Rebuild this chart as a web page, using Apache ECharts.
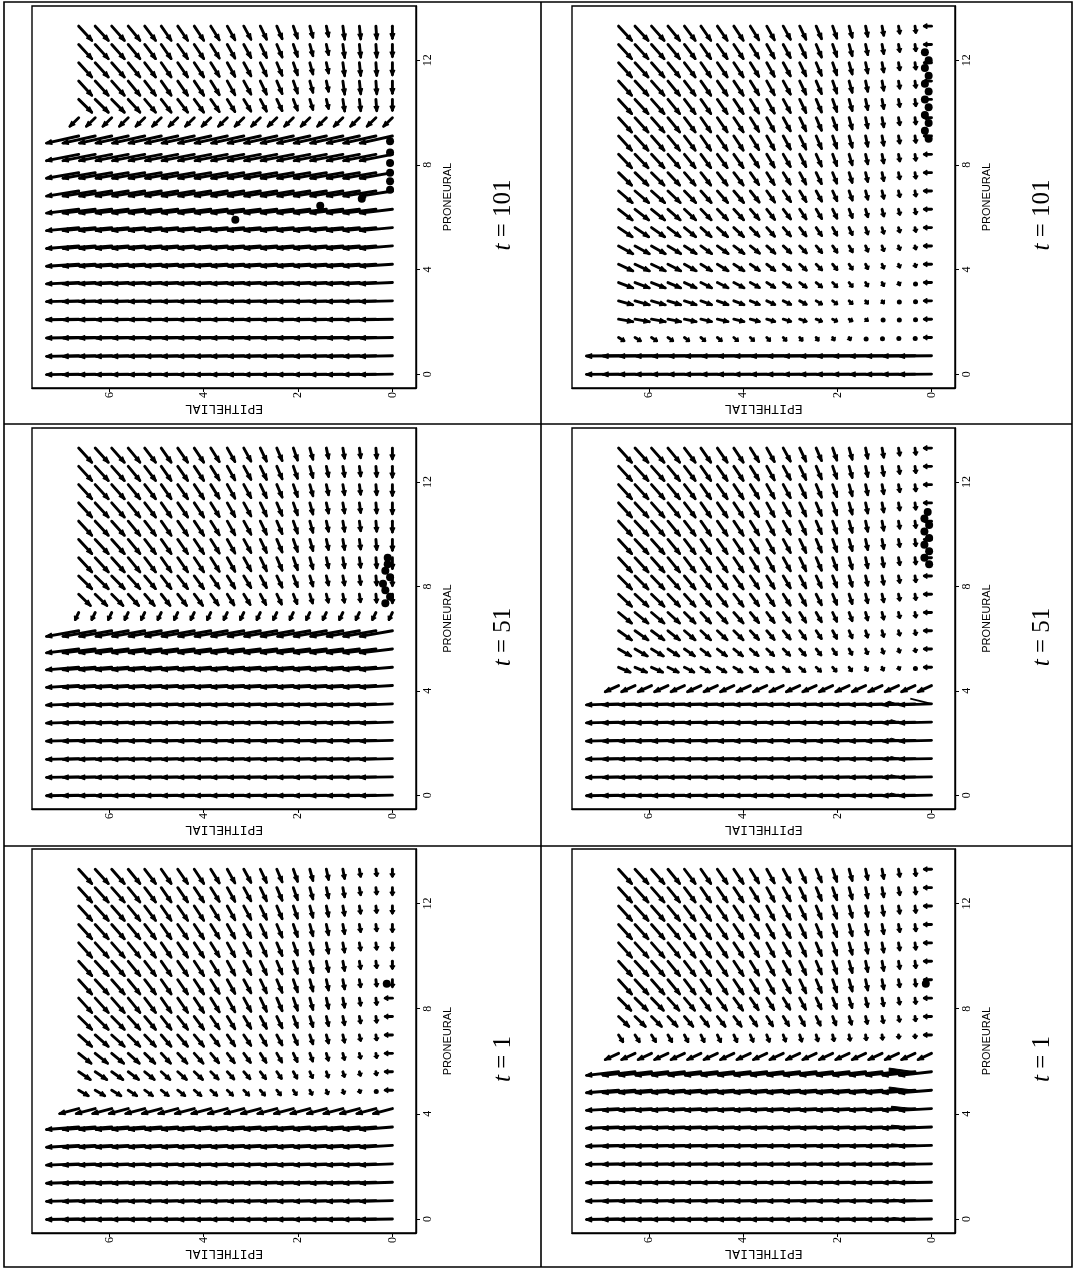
<!DOCTYPE html>
<html><head><meta charset="utf-8">
<script src="https://cdn.jsdelivr.net/npm/echarts@6/dist/echarts.min.js"></script>
<style>html,body{margin:0;padding:0;background:#fff}#c{width:1075px;height:1271px}</style>
</head><body><div id="c"></div>
<script>
// ---------------- DATA ----------------
const E_GRID = [0,0.35,0.7,1.05,1.4,1.75,2.1,2.45,2.8,3.15,3.5,3.85,4.2,4.55,4.9,5.25,5.6,5.95,6.3,6.65];
const P_GRID = [0,0.7,1.4,2.1,2.8,3.5,4.2,4.9,5.6,6.3,7.0,7.7,8.4,9.1,9.8,10.5,11.2,11.9,12.6,13.3];
const E_TICKS = [0,2,4,6];
const P_TICKS = [0,4,8,12];
const T_LABELS = ['1','51','101'];
// steady downhill arrow components (epithelial, proneural) per epithelial column
const DIAG_DE = [0,0.02,0.03,0.04,0.05,0.07,0.095,0.12,0.14,0.16,0.17,0.19,0.21,0.22,0.22,0.24,0.26,0.28,0.29,0.29];
const DIAG_DP = [0.3,0.27,0.3,0.38,0.42,0.46,0.49,0.51,0.53,0.53,0.55,0.55,0.57,0.57,0.57,0.57,0.57,0.57,0.57,0.57];
const COL0_DASH = 0.17;
// per proneural row: ['L', epithelial rise, proneural drop] or ['D', scale of DIAG_DE, scale of DIAG_DP]
const ROWS_LEFT_T1 = [['L',.7,.02],['L',.7,.03],['L',.7,.04],['L',.7,.05],['L',.7,.07],['L',.7,.1],['L',.42,.2],['D',.75,.4],['D',.9,.55],['D',.95,.7],['D',1,.8],['D',1,.9],['D',1,1],['D',1,1],['D',1,1],['D',1,1],['D',1,1],['D',1,1],['D',1,1],['D',1,1]];
const ROWS_LEFT_T51 = [['L',.7,.02],['L',.7,.02],['L',.7,.03],['L',.7,.03],['L',.7,.04],['L',.7,.05],['L',.7,.07],['L',.7,.1],['L',.7,.15],['L',.7,.22],['L',.08,.3],['D',.9,.8],['D',1,.9],['D',1,1],['D',1,1],['D',1,1],['D',1,1],['D',1,1],['D',1,1],['D',1,1]];
const ROWS_LEFT_T101 = [['L',.7,.02],['L',.7,.02],['L',.7,.02],['L',.7,.02],['L',.7,.03],['L',.7,.05],['L',.7,.08],['L',.7,.1],['L',.7,.12],['L',.7,.15],['L',.7,.2],['L',.7,.22],['L',.7,.25],['L',.7,.28],['L',.2,.35],['D',1,.9],['D',1,1],['D',1,1],['D',1,1],['D',1,1]];
const ROWS_RIGHT_T1 = [['L',.7,.02],['L',.7,.02],['L',.7,.02],['L',.7,.02],['L',.7,.03],['L',.7,.05],['L',.7,.07],['L',.7,.1],['L',.7,.14],['L',.3,.25],['D',.35,.5],['D',.8,.7],['D',.95,.85],['D',1,1],['D',1,1],['D',1,1],['D',1,1],['D',1,1],['D',1,1],['D',1,1]];
const ROWS_RIGHT_T51 = [['L',.7,.02],['L',.7,.02],['L',.7,.02],['L',.7,.03],['L',.7,.03],['L',.7,.04],['L',.3,.25],['D',.9,.35],['D',.95,.5],['D',1,.65],['D',1,.75],['D',1,.85],['D',1,.92],['D',1,1],['D',1,1],['D',1,1],['D',1,1],['D',1,1],['D',1,1],['D',1,1]];
const ROWS_RIGHT_T101 = [['L',.7,.01],['L',.7,.01],['D',.45,.25],['D',1.1,.18],['D',1.1,.28],['D',1.1,.38],['D',1.1,.47],['D',1.1,.55],['D',1.05,.65],['D',1.05,.75],['D',1.05,.82],['D',1,.88],['D',1,.94],['D',1,1],['D',1,1],['D',1,1],['D',1,1],['D',1,1],['D',1,1],['D',1,1]];
// column e=0 in 'D' rows: h = short epithelial dash, v = proneural arrow
const COL0_LEFT_T1 = '-------hhhhhhvvvvvvv';
const COL0_LEFT_T51 = '-----------vvvvvvvvv';
const COL0_LEFT_T101 = '---------------vvvvv';
const COL0_RIGHT_T1 = '----------hhhhhhhhhh';
const COL0_RIGHT_T51 = '-------hhhhhhhhhhhhh';
const COL0_RIGHT_T101 = '--hhhhhhhhhhhhhhhhhh';
const LOWDP_LEFT_T51 = [0.45,0.42,0.4,0.42];
const LOWDP_LEFT_T101 = [0.5,0.52,0.52,0.53];
// cells (epithelial, proneural)
const CELLS_LEFT_T1 = [[0.12,8.95]];
const CELLS_LEFT_T51 = [[0.15,7.35],[0.05,7.6],[0.15,7.85],[0.2,8.1],[0.05,8.35],[0.15,8.6],[0.1,8.85],[0.1,9.1]];
const CELLS_LEFT_T101 = [[0.05,7.05],[0.05,7.37],[0.05,7.7],[0.05,8.07],[0.05,8.47],[0.05,8.9],[0.65,6.7],[1.53,6.44],[3.33,5.9]];
const CELLS_RIGHT_T1 = [[0.12,8.95]];
const CELLS_RIGHT_T51 = [[0.05,8.85],[0.15,9.1],[0.05,9.35],[0.15,9.6],[0.05,9.85],[0.15,10.1],[0.05,10.35],[0.15,10.6],[0.08,10.85]];
const CELLS_RIGHT_T101 = [[0.06,9.0],[0.14,9.3],[0.06,9.6],[0.14,9.9],[0.06,10.2],[0.14,10.5],[0.06,10.8],[0.14,11.1],[0.06,11.4],[0.14,11.7],[0.06,12.0],[0.14,12.3]];
// extra heads near the e=0 end of the long rows (triangles: e,p ×3)
const WEDGES_RIGHT_T1 = [[0.9,0,0.8,0.06,0.65,0],[0.9,0.7,0.8,0.76,0.65,0.7],[0.9,1.4,0.8,1.46,0.65,1.4],[0.9,2.1,0.8,2.16,0.65,2.1],[0.85,2.8,0.85,2.86,0.5,2.8],[0.85,3.5,0.85,3.57,0.45,3.5],[0.85,4.2,0.85,4.29,0.4,4.2],[0.9,4.9,0.9,5.02,0.38,4.9],[0.9,5.6,0.9,5.74,0.35,5.6]];
const WEDGES_RIGHT_T51 = [[0.95,0,0.85,0.08,0.7,0],[0.95,0.7,0.85,0.78,0.7,0.7],[0.95,1.4,0.85,1.48,0.7,1.4],[0.95,2.1,0.85,2.18,0.7,2.1],[0.95,2.8,0.85,2.89,0.7,2.8],[1.0,3.5,0.9,3.6,0.75,3.5]];
const BARBS_RIGHT_T51 = [[0,3.5,0.45,3.7]];

// ---------------- LAYOUT ----------------
const COL_LEFT = [32, 572], COL_W = [384, 383];
const ROW_TOP = [6, 428, 849], ROW_H = [382, 381, 384];
const CELL_MID = [215, 637, 1059];
const T_X = [503, 1042];
const E_MIN = -0.5, E_MAX = 7.64, P_MIN = -0.53, P_MAX = 14.07;

const PANELS = [
  {rows: ROWS_LEFT_T101, col0: COL0_LEFT_T101, low: LOWDP_LEFT_T101, cells: CELLS_LEFT_T101, wedges: [], barbs: [], t: T_LABELS[2], c: 0, r: 0},
  {rows: ROWS_LEFT_T51, col0: COL0_LEFT_T51, low: LOWDP_LEFT_T51, cells: CELLS_LEFT_T51, wedges: [], barbs: [], t: T_LABELS[1], c: 0, r: 1},
  {rows: ROWS_LEFT_T1, col0: COL0_LEFT_T1, low: null, cells: CELLS_LEFT_T1, wedges: [], barbs: [], t: T_LABELS[0], c: 0, r: 2},
  {rows: ROWS_RIGHT_T101, col0: COL0_RIGHT_T101, low: null, cells: CELLS_RIGHT_T101, wedges: [], barbs: [], t: T_LABELS[2], c: 1, r: 0},
  {rows: ROWS_RIGHT_T51, col0: COL0_RIGHT_T51, low: null, cells: CELLS_RIGHT_T51, wedges: WEDGES_RIGHT_T51, barbs: BARBS_RIGHT_T51, t: T_LABELS[1], c: 1, r: 1},
  {rows: ROWS_RIGHT_T1, col0: COL0_RIGHT_T1, low: null, cells: CELLS_RIGHT_T1, wedges: WEDGES_RIGHT_T1, barbs: [], t: T_LABELS[0], c: 1, r: 2}
];

function buildArrows(pn) {
  const out = [];
  P_GRID.forEach((p, i) => {
    const row = pn.rows[i];
    E_GRID.forEach((e, j) => {
      let he, hp;
      if (row[0] === 'L') { he = e + row[1]; hp = p - row[2]; }
      else if (j === 0 && pn.col0[i] === 'h') { he = e + COL0_DASH; hp = p; }
      else {
        const dp = (pn.low && j < pn.low.length) ? pn.low[j] : DIAG_DP[j];
        he = e - DIAG_DE[j] * row[1]; hp = p - dp * row[2];
      }
      out.push([e, p, he, hp]);
    });
  });
  return out;
}

function arrowItem(params, api) {
  const a = api.coord([api.value(0), api.value(1)]);
  const b = api.coord([api.value(2), api.value(3)]);
  const dx = b[0] - a[0], dy = b[1] - a[1];
  const L = Math.hypot(dx, dy);
  if (L < 3) {
    return {type: 'circle', shape: {cx: (a[0]+b[0])/2, cy: (a[1]+b[1])/2, r: 2.5}, style: {fill: '#000'}};
  }
  const ux = dx / L, uy = dy / L;
  const hl = Math.min(6, Math.max(2.5, L * 0.42));
  const hw = 2.3;
  const bx = b[0] - ux * hl, by = b[1] - uy * hl;
  return {type: 'group', children: [
    {type: 'line', shape: {x1: a[0], y1: a[1], x2: b[0] - ux, y2: b[1] - uy}, style: {stroke: '#000', lineWidth: 2.9, lineCap: 'round'}},
    {type: 'polygon', shape: {points: [[b[0], b[1]], [bx - uy*hw, by + ux*hw], [bx + uy*hw, by - ux*hw]]}, style: {fill: '#000', stroke: '#000', lineWidth: 1.3, lineJoin: 'round'}}
  ]};
}
function wedgeItem(params, api) {
  const pts = [0,1,2].map(k => api.coord([api.value(2*k), api.value(2*k+1)]));
  return {type: 'polygon', shape: {points: pts}, style: {fill: '#000', stroke: '#000', lineWidth: 1}};
}
function barbItem(params, api) {
  const a = api.coord([api.value(0), api.value(1)]);
  const b = api.coord([api.value(2), api.value(3)]);
  return {type: 'line', shape: {x1: a[0], y1: a[1], x2: b[0], y2: b[1]}, style: {stroke: '#000', lineWidth: 1.8}};
}

const grid = [], xAxis = [], yAxis = [], series = [], graphic = [];
PANELS.forEach((pn, k) => {
  grid.push({left: COL_LEFT[pn.c], top: ROW_TOP[pn.r], width: COL_W[pn.c], height: ROW_H[pn.r],
    show: true, borderColor: '#000', borderWidth: 1.4, backgroundColor: 'transparent', outerBoundsMode: 'none'});
  xAxis.push({type: 'value', gridIndex: k, min: E_MIN, max: E_MAX, inverse: true, position: 'bottom',
    axisLine: {show: true, onZero: false, lineStyle: {color: '#000', width: 1.4}},
    axisTick: {show: true, customValues: E_TICKS, length: 4, lineStyle: {color: '#000'}},
    axisLabel: {customValues: E_TICKS, rotate: 90, margin: 4, color: '#000', fontFamily: 'Liberation Serif', fontSize: 12},
    splitLine: {show: false},
    name: 'EPITHELIAL', nameLocation: 'middle', nameRotate: 180, nameGap: 11,
    nameTextStyle: {color: '#000', fontFamily: 'Liberation Mono', fontSize: 13}});
  yAxis.push({type: 'value', gridIndex: k, min: P_MIN, max: P_MAX, position: 'right',
    axisLine: {show: true, onZero: false, lineStyle: {color: '#000', width: 1.4}},
    axisTick: {show: true, customValues: P_TICKS, length: 4, lineStyle: {color: '#000'}},
    axisLabel: {customValues: P_TICKS, rotate: 90, margin: 6, color: '#000', fontFamily: 'Liberation Serif', fontSize: 12},
    splitLine: {show: false},
    name: 'PRONEURAL', nameLocation: 'middle', nameRotate: 90, nameGap: 26,
    nameTextStyle: {color: '#000', fontFamily: 'Liberation Sans', fontSize: 11}});
  series.push({type: 'custom', xAxisIndex: k, yAxisIndex: k, coordinateSystem: 'cartesian2d',
    data: buildArrows(pn), encode: {x: [0, 2], y: [1, 3]}, renderItem: arrowItem, silent: true, animation: false});
  if (pn.wedges.length) series.push({type: 'custom', xAxisIndex: k, yAxisIndex: k, data: pn.wedges,
    encode: {x: [0, 2, 4], y: [1, 3, 5]}, renderItem: wedgeItem, silent: true, animation: false});
  if (pn.barbs.length) series.push({type: 'custom', xAxisIndex: k, yAxisIndex: k, data: pn.barbs,
    encode: {x: [0, 2], y: [1, 3]}, renderItem: barbItem, silent: true, animation: false});
  series.push({type: 'scatter', xAxisIndex: k, yAxisIndex: k, data: pn.cells, symbolSize: 8,
    itemStyle: {color: '#000', opacity: 1}, silent: true, animation: false, z: 5});
  graphic.push({type: 'text', x: T_X[pn.c], y: CELL_MID[pn.r], rotation: Math.PI / 2,
    style: {text: '{i|t} = ' + pn.t, align: 'center', verticalAlign: 'middle', fill: '#000',
      fontFamily: 'Liberation Serif', fontSize: 25,
      rich: {i: {fontStyle: 'italic', fontFamily: 'Liberation Serif', fontSize: 25}}}});
});
// frame and dividers
graphic.push({type: 'rect', shape: {x: 4, y: 2, width: 1068, height: 1265}, style: {fill: 'none', stroke: '#000', lineWidth: 1.6}, z: 10});
graphic.push({type: 'line', shape: {x1: 541, y1: 2, x2: 541, y2: 1267}, style: {stroke: '#000', lineWidth: 1.6}, z: 10});
graphic.push({type: 'line', shape: {x1: 4, y1: 424, x2: 1072, y2: 424}, style: {stroke: '#000', lineWidth: 1.6}, z: 10});
graphic.push({type: 'line', shape: {x1: 4, y1: 846, x2: 1072, y2: 846}, style: {stroke: '#000', lineWidth: 1.6}, z: 10});

const chart = echarts.init(document.getElementById('c'), null, {renderer: 'canvas'});
chart.setOption({animation: false, backgroundColor: '#fff', grid, xAxis, yAxis, series, graphic});
</script></body></html>
